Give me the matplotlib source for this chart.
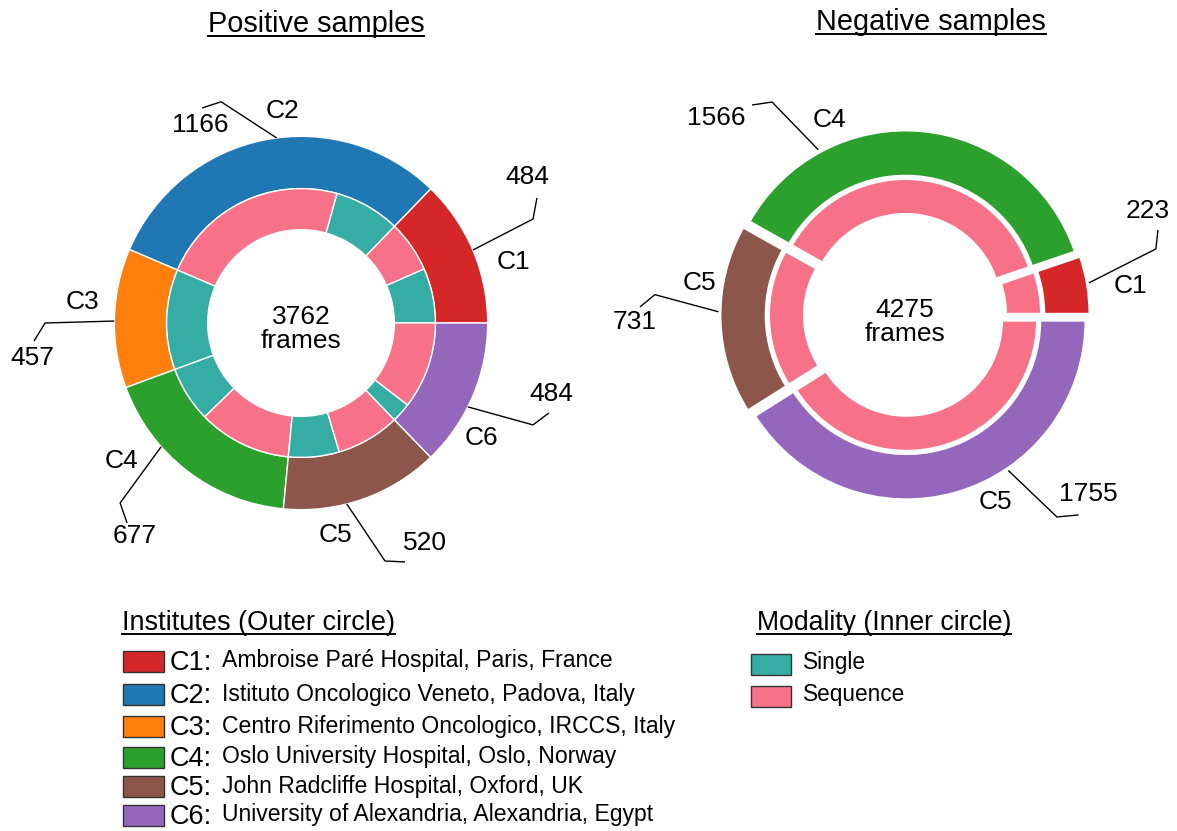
import matplotlib
matplotlib.use('Agg')
import matplotlib.pyplot as plt
import numpy as np
from matplotlib.patches import Rectangle
from matplotlib.lines import Line2D

plt.rcParams['font.family'] = ['Liberation Sans', 'DejaVu Sans']

# ---- data -------------------------------------------------------------
pos_centres = ['C1', 'C2', 'C3', 'C4', 'C5', 'C6']
pos_frames = [484, 1166, 457, 677, 520, 484]
pos_single = [250, 300, 457, 253, 231, 89]
pos_total = 3762

neg_centres = ['C1', 'C4', 'C5', 'C5']
neg_frames = [223, 1566, 731, 1755]
neg_single = [0, 0, 0, 0]
neg_total = 4275

legend_codes = ['C1', 'C2', 'C3', 'C4', 'C5', 'C6']
institutes = ['Ambroise Paré Hospital, Paris, France',
              'Istituto Oncologico Veneto, Padova, Italy',
              'Centro Riferimento Oncologico, IRCCS, Italy',
              'Oslo University Hospital, Oslo, Norway',
              'John Radcliffe Hospital, Oxford, UK',
              'University of Alexandria, Alexandria, Egypt']
modalities = ['Single', 'Sequence']

# ---- style / layout ---------------------------------------------------
centre_colours = ['#d62728', '#1f77b4', '#ff7f0e', '#2ca02c', '#8c564b', '#9467bd']
neg_colour_idx = [0, 3, 4, 5]
mod_colours = ['#36ada4', '#f77189']

W, H = 1177, 831

# label layout, in units of the outer radius (anchor angle in degrees)
pos_layout = dict(
    anchor=[23, 97.5, 179.4, 221.5, 284.2, 333.3],
    elbow=[(1.243, 0.557), (-0.428, 1.185), (-1.371, 0.0), (-0.969, -0.964),
           (0.450, -1.275), (1.243, -0.546)],
    end=[(1.264, 0.670), (-0.530, 1.152), (-1.430, -0.096), (-0.932, -1.071),
         (0.557, -1.280), (1.328, -0.482)],
    num=[(1.210, 0.782), (-0.541, 1.063), (-1.441, -0.187), (-0.889, -1.141),
         (0.664, -1.178), (1.339, -0.380)],
    lab=[(1.136, 0.327), (-0.099, 1.136), (-1.173, 0.112), (-0.964, -0.739),
         (0.182, -1.136), (0.969, -0.616)],
    centre_y=-0.03,
)
neg_layout = dict(
    anchor=[9.9, 117.7, 179.0, 303.6],
    elbow=[(1.344, 0.354), (-0.712, 1.141), (-1.340, 0.109), (0.814, -1.082)],
    end=[(1.355, 0.455), (-0.819, 1.125), (-1.420, 0.043), (0.930, -1.071)],
    num=[(1.302, 0.557), (-1.012, 1.055), (-1.446, -0.037), (0.980, -0.959)],
    lab=[(1.210, 0.155), (-0.407, 1.044), (-1.103, 0.171), (0.487, -1.002)],
    centre_y=-0.035,
)


def px(x, y):
    # pixel position (from top-left) -> figure fraction
    return x / W, 1 - y / H


def donut(ax, frames, single, colours, total, centres, layout,
          r_out, w_out, r_in, w_in, explode, lw):
    inner_vals, inner_cols = [], []
    for f, s in zip(frames, single):
        for v, c in zip([s, f - s], mod_colours):
            if v > 0:
                inner_vals.append(v)
                inner_cols.append(c)
    ax.pie(frames, radius=r_out, colors=colours, startangle=0,
           explode=[explode] * len(frames),
           wedgeprops=dict(width=w_out, edgecolor='white', linewidth=lw))
    ax.pie(inner_vals, radius=r_in, colors=inner_cols, startangle=0,
           explode=[explode] * len(inner_vals),
           wedgeprops=dict(width=w_in, edgecolor='white', linewidth=lw))
    ax.text(0, layout['centre_y'], '{0}\nframes'.format(total), ha='center',
            va='center', fontsize=19, linespacing=1.0)
    for i, n in enumerate(frames):
        a = np.deg2rad(layout['anchor'][i])
        xs = [np.cos(a), layout['elbow'][i][0], layout['end'][i][0]]
        ys = [np.sin(a), layout['elbow'][i][1], layout['end'][i][1]]
        ax.plot(xs, ys, color='black', lw=1.0, solid_capstyle='butt')
        ax.text(*layout['num'][i], str(n), ha='center', va='center', fontsize=19)
        ax.text(*layout['lab'][i], centres[i], ha='center', va='center', fontsize=19)
    ax.set_xlim(-1.5, 1.5)
    ax.set_ylim(-1.5, 1.5)
    ax.set_aspect('equal')
    ax.axis('off')


fig = plt.figure(figsize=(W / 100, H / 100), dpi=100)

ax1 = fig.add_axes([21 / W, 228 / H, 560 / W, 560 / H])
donut(ax1, pos_frames, pos_single, centre_colours, pos_total, pos_centres,
      pos_layout, 1.0, 0.28, 0.72, 0.22, 0.0, 1.0)

ax2 = fig.add_axes([625 / W, 236 / H, 560 / W, 560 / H])
donut(ax2, neg_frames, neg_single, [centre_colours[i] for i in neg_colour_idx],
      neg_total, neg_centres, neg_layout, 0.96, 0.245, 0.70, 0.19, 0.03, 1.8)

# ---- titles (underlined) ---------------------------------------------
underlined = []
underlined.append(fig.text(*px(316, 32), 'Positive samples', ha='center',
                           va='baseline', fontsize=20.8))
underlined.append(fig.text(*px(931, 30), 'Negative samples', ha='center',
                           va='baseline', fontsize=20.8))
underlined.append(fig.text(*px(122, 630), 'Institutes (Outer circle)', ha='left',
                           va='baseline', fontsize=19.5))
underlined.append(fig.text(*px(757, 630), 'Modality (Inner circle)', ha='left',
                           va='baseline', fontsize=19.2))

# institutes legend
rows_y = [661, 694, 726, 757, 786, 815]
for code, name, col, y in zip(legend_codes, institutes, centre_colours, rows_y):
    x0, y0 = px(123, y + 10.5)
    fig.patches.append(Rectangle((x0, y0), 41 / W, 21 / H, transform=fig.transFigure,
                                 facecolor=col, edgecolor='#333333', lw=1.0))
    fig.text(*px(170, y + 2), code + ':', ha='left', va='center', fontsize=19.5)
    fig.text(*px(222, y), name, ha='left', va='center', fontsize=16.6)

# modality legend
for name, col, y in zip(modalities, mod_colours, [664, 696]):
    x0, y0 = px(751, y + 10.5)
    fig.patches.append(Rectangle((x0, y0), 40 / W, 21 / H, transform=fig.transFigure,
                                 facecolor=col, edgecolor='#333333', lw=1.0))
    fig.text(*px(803, y - 1), name, ha='left', va='center', fontsize=16.3)

# draw underlines under the titles
renderer = fig.canvas.get_renderer()
inv = fig.transFigure.inverted()
for t in underlined:
    bb = t.get_window_extent(renderer=renderer)
    yb = t.get_transform().transform(t.get_position())[1] - 3.5
    (fx0, fy), (fx1, _) = inv.transform([(bb.x0, yb), (bb.x1, yb)])
    fig.add_artist(Line2D([fx0, fx1], [fy, fy], color='black', lw=1.4))

fig.savefig('out.png', dpi=100)
